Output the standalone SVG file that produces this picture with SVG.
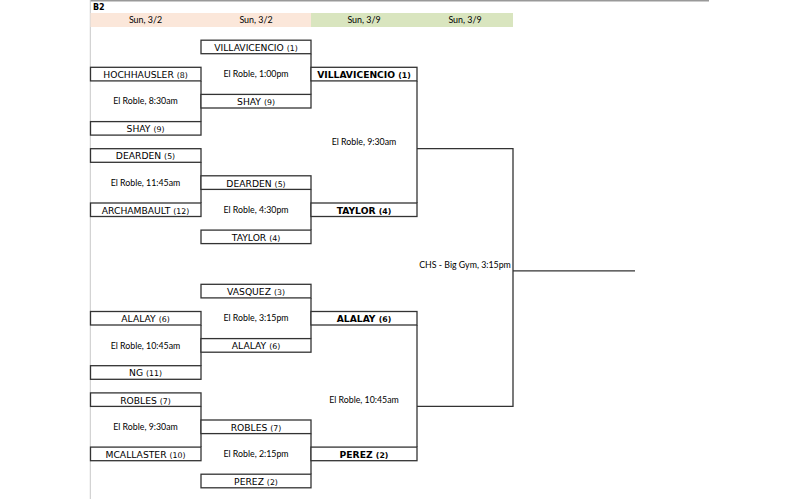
<svg xmlns="http://www.w3.org/2000/svg" width="805" height="500" viewBox="0 0 805 500">
<style>
.box{fill:#fff;stroke:#333;stroke-width:1.3}
.ln{fill:none;stroke:#333;stroke-width:1.3}
.nm{font-family:"DejaVu Sans",Verdana,sans-serif;font-size:9.2px;fill:#000;text-anchor:middle}
.sd{font-size:7.8px}
.bd{font-weight:bold}
.vn{font-family:Lato,"Liberation Sans",sans-serif;font-size:8.8px;fill:#000;text-anchor:middle}
.hd{font-family:Lato,"Liberation Sans",sans-serif;font-size:8.9px;fill:#000;text-anchor:middle}
</style>
<rect x="0" y="0" width="805" height="500" fill="#fff"/>
<g id="frame">
<line x1="90" y1="0.8" x2="709" y2="0.8" stroke="#999" stroke-width="1.6"/>
<line x1="90.3" y1="0" x2="90.3" y2="499" stroke="#c8c8c8" stroke-width="1"/>
</g>
<g id="header">
<text x="93" y="10" font-family="'DejaVu Sans',sans-serif" font-size="8px" font-weight="bold">B2</text>
<rect x="90.5" y="13" width="220.5" height="14" fill="#FBE7DA"/>
<rect x="311" y="13" width="202" height="14" fill="#D9E5BF"/>
<text class="hd" x="145.5" y="23">Sun, 3/2</text>
<text class="hd" x="256" y="23">Sun, 3/2</text>
<text class="hd" x="364" y="23">Sun, 3/9</text>
<text class="hd" x="465" y="23">Sun, 3/9</text>
</g>
<g id="connectors">
<line class="ln" x1="201" y1="80.9" x2="201" y2="121.6"/>
<line class="ln" x1="201" y1="162.3" x2="201" y2="203"/>
<line class="ln" x1="201" y1="325" x2="201" y2="365.7"/>
<line class="ln" x1="201" y1="406.4" x2="201" y2="447.1"/>
<line class="ln" x1="311" y1="53.7" x2="311" y2="94.4"/>
<line class="ln" x1="311" y1="189.4" x2="311" y2="230.1"/>
<line class="ln" x1="311" y1="297.9" x2="311" y2="338.6"/>
<line class="ln" x1="311" y1="433.6" x2="311" y2="474.2"/>
<line class="ln" x1="417" y1="80.9" x2="417" y2="203"/>
<line class="ln" x1="417" y1="325" x2="417" y2="447.1"/>
<polyline class="ln" points="417,148.7 513,148.7 513,406.4 417,406.4"/>
<line class="ln" x1="513" y1="270.8" x2="635" y2="270.8"/>
<text class="vn" x="145.5" y="104.3">El Roble, 8:30am</text>
<text class="vn" x="256" y="77.2">El Roble, 1:00pm</text>
<text class="vn" x="145.5" y="185.7">El Roble, 11:45am</text>
<text class="vn" x="256" y="212.8">El Roble, 4:30pm</text>
<text class="vn" x="364" y="145.1">El Roble, 9:30am</text>
<text class="vn" x="465" y="268.3">CHS - Big Gym, 3:15pm</text>
<text class="vn" x="256" y="321.4">El Roble, 3:15pm</text>
<text class="vn" x="145.5" y="348.5">El Roble, 10:45am</text>
<text class="vn" x="364" y="402.8">El Roble, 10:45am</text>
<text class="vn" x="145.5" y="429.9">El Roble, 9:30am</text>
<text class="vn" x="256" y="457">El Roble, 2:15pm</text>
</g>
<g id="r1-hochhausler"><rect class="box" x="90.5" y="67.3" width="110.5" height="13.6"/><text class="nm" x="145.5" y="78">HOCHHAUSLER <tspan class="sd">(8)</tspan></text></g>
<g id="r1-shay"><rect class="box" x="90.5" y="121.6" width="110.5" height="13.5"/><text class="nm" x="145.5" y="132.3">SHAY <tspan class="sd">(9)</tspan></text></g>
<g id="r1-dearden"><rect class="box" x="90.5" y="148.7" width="110.5" height="13.6"/><text class="nm" x="145.5" y="159.4">DEARDEN <tspan class="sd">(5)</tspan></text></g>
<g id="r1-archambault"><rect class="box" x="90.5" y="203" width="110.5" height="13.5"/><text class="nm" x="145.5" y="213.7">ARCHAMBAULT <tspan class="sd">(12)</tspan></text></g>
<g id="r1-alalay"><rect class="box" x="90.5" y="311.5" width="110.5" height="13.5"/><text class="nm" x="145.5" y="322.2">ALALAY <tspan class="sd">(6)</tspan></text></g>
<g id="r1-ng"><rect class="box" x="90.5" y="365.7" width="110.5" height="13.6"/><text class="nm" x="145.5" y="376.4">NG <tspan class="sd">(11)</tspan></text></g>
<g id="r1-robles"><rect class="box" x="90.5" y="392.9" width="110.5" height="13.5"/><text class="nm" x="145.5" y="403.6">ROBLES <tspan class="sd">(7)</tspan></text></g>
<g id="r1-mcallaster"><rect class="box" x="90.5" y="447.1" width="110.5" height="13.6"/><text class="nm" x="145.5" y="457.8">MCALLASTER <tspan class="sd">(10)</tspan></text></g>
<g id="r2-villavicencio"><rect class="box" x="201" y="40.2" width="110" height="13.5"/><text class="nm" x="256" y="50.9">VILLAVICENCIO <tspan class="sd">(1)</tspan></text></g>
<g id="r2-shay"><rect class="box" x="201" y="94.4" width="110" height="13.6"/><text class="nm" x="256" y="105.1">SHAY <tspan class="sd">(9)</tspan></text></g>
<g id="r2-dearden"><rect class="box" x="201" y="175.8" width="110" height="13.6"/><text class="nm" x="256" y="186.5">DEARDEN <tspan class="sd">(5)</tspan></text></g>
<g id="r2-taylor"><rect class="box" x="201" y="230.1" width="110" height="13.5"/><text class="nm" x="256" y="240.8">TAYLOR <tspan class="sd">(4)</tspan></text></g>
<g id="r2-vasquez"><rect class="box" x="201" y="284.3" width="110" height="13.6"/><text class="nm" x="256" y="295">VASQUEZ <tspan class="sd">(3)</tspan></text></g>
<g id="r2-alalay"><rect class="box" x="201" y="338.6" width="110" height="13.6"/><text class="nm" x="256" y="349.3">ALALAY <tspan class="sd">(6)</tspan></text></g>
<g id="r2-robles"><rect class="box" x="201" y="420" width="110" height="13.6"/><text class="nm" x="256" y="430.7">ROBLES <tspan class="sd">(7)</tspan></text></g>
<g id="r2-perez"><rect class="box" x="201" y="474.2" width="110" height="13.6"/><text class="nm" x="256" y="484.9">PEREZ <tspan class="sd">(2)</tspan></text></g>
<g id="sf-villavicencio"><rect class="box" x="311" y="67.3" width="106" height="13.6"/><text class="nm bd" x="364" y="78">VILLAVICENCIO <tspan class="sd">(1)</tspan></text></g>
<g id="sf-taylor"><rect class="box" x="311" y="203" width="106" height="13.5"/><text class="nm bd" x="364" y="213.7">TAYLOR <tspan class="sd">(4)</tspan></text></g>
<g id="sf-alalay"><rect class="box" x="311" y="311.5" width="106" height="13.5"/><text class="nm bd" x="364" y="322.2">ALALAY <tspan class="sd">(6)</tspan></text></g>
<g id="sf-perez"><rect class="box" x="311" y="447.1" width="106" height="13.6"/><text class="nm bd" x="364" y="457.8">PEREZ <tspan class="sd">(2)</tspan></text></g>
</svg>
